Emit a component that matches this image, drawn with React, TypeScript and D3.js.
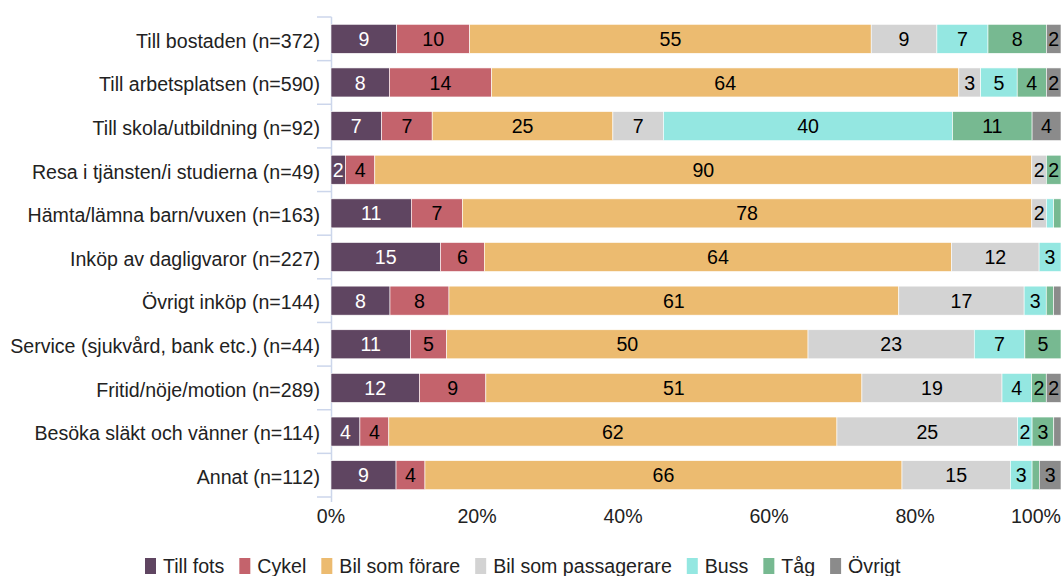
import React from "react";
import * as d3 from "d3";

const categories = [
  "Till bostaden (n=372)",
  "Till arbetsplatsen (n=590)",
  "Till skola/utbildning (n=92)",
  "Resa i tjänsten/i studierna (n=49)",
  "Hämta/lämna barn/vuxen (n=163)",
  "Inköp av dagligvaror (n=227)",
  "Övrigt inköp (n=144)",
  "Service (sjukvård, bank etc.) (n=44)",
  "Fritid/nöje/motion (n=289)",
  "Besöka släkt och vänner (n=114)",
  "Annat (n=112)",
];

const seriesNames = ["Till fots", "Cykel", "Bil som förare", "Bil som passagerare", "Buss", "Tåg", "Övrigt"];
const seriesColors = ["#5f4561", "#c4636c", "#ecbb70", "#d3d3d3", "#94e7e1", "#77b991", "#8b8b8b"];
const labelColors = ["#ffffff", "#000000", "#000000", "#000000", "#000000", "#000000", "#000000"];

const tillFots = [9, 8, 7, 2, 11, 15, 8, 11, 12, 4, 9];
const cykel = [10, 14, 7, 4, 7, 6, 8, 5, 9, 4, 4];
const bilForare = [55, 64, 25, 90, 78, 64, 61, 50, 51, 62, 66];
const bilPassagerare = [9, 3, 7, 2, 2, 12, 17, 23, 19, 25, 15];
const buss = [7, 5, 40, 0, 1, 3, 3, 7, 4, 2, 3];
const tag = [8, 4, 11, 2, 1, 0, 1, 5, 2, 3, 1];
const ovrigt = [2, 2, 4, 0, 0, 0, 1, 0, 2, 1, 3];

const seriesValues = [tillFots, cykel, bilForare, bilPassagerare, buss, tag, ovrigt];
const xTicks = [0, 0.2, 0.4, 0.6, 0.8, 1];

const FONT = "'Liberation Sans', Arial, Helvetica, sans-serif";
const FS = 19.6;

function measure(text: string): number {
  const c = document.createElement("canvas");
  const ctx = c.getContext("2d");
  if (!ctx) return text.length * 9;
  ctx.font = `${FS}px ${FONT}`;
  return ctx.measureText(text).width;
}

export default function App() {
  const width = 1063;
  const height = 576;
  const x0 = 331;
  const x1 = 1061;
  const yTop = 17;
  const yBot = 497;
  const axisColor = "#ccd6eb";

  const rows = categories.map((c, i) => {
    const r: any = { cat: c };
    seriesNames.forEach((s, j) => (r[s] = seriesValues[j][i]));
    return r;
  });

  const stack = d3.stack<any>().keys(seriesNames).offset(d3.stackOffsetExpand)(rows);

  const x = d3.scaleLinear().domain([0, 1]).range([x0, x1]);
  const y = d3.scaleBand<string>().domain(categories).range([yTop, yBot]).paddingInner(0.335).paddingOuter(0.1675);
  const step = y.step();

  // legend layout
  let lx = 145;
  const legendItems = seriesNames.map((s, i) => {
    const w = measure(s);
    const item = { name: s, color: seriesColors[i], x: lx, w };
    lx += 11 + 7 + w + 15;
    return item;
  });

  return (
    <svg width={width} height={height} style={{ position: "absolute", left: 0, top: 0, fontFamily: FONT }}>
      <rect width={width} height={height} fill="#ffffff" />
      {/* axis line */}
      <line x1={x0 + 0.5} x2={x0 + 0.5} y1={yTop} y2={yBot + 5} stroke={axisColor} strokeWidth={1.5} />
      {d3.range(categories.length + 1).map((i) => {
        const yy = yTop + i * step;
        return <line key={i} x1={317} x2={x0 + 0.5} y1={yy} y2={yy} stroke={axisColor} strokeWidth={1.5} />;
      })}
      {/* category labels */}
      {categories.map((c) => (
        <text key={c} x={320} y={(y(c) as number) + y.bandwidth() / 2 + 2} dy="0.35em" textAnchor="end" fontSize={FS} fill="#222">
          {c}
        </text>
      ))}
      {/* bars */}
      {stack.map((layer, j) => (
        <g key={layer.key}>
          {layer.map((d, i) => {
            const v = seriesValues[j][i];
            if (v <= 0) return null;
            const xa = x(d[0]);
            const xb = x(d[1]);
            const yy = y(categories[i]) as number;
            return (
              <g key={i}>
                <rect x={xa} y={yy} width={xb - xa} height={y.bandwidth()} fill={seriesColors[j]} stroke="#ffffff" strokeWidth={0.6} />
                {v >= 2 && (
                  <text x={(xa + xb) / 2} y={yy + y.bandwidth() / 2} dy="0.36em" textAnchor="middle" fontSize={FS} fill={labelColors[j]}>
                    {v}
                  </text>
                )}
              </g>
            );
          })}
        </g>
      ))}
      {/* x tick labels */}
      {xTicks.map((t, i) => (
        <text key={t} x={i === xTicks.length - 1 ? x1 : x(t)} y={523} textAnchor={i === xTicks.length - 1 ? "end" : "middle"} fontSize={FS} fill="#222">
          {`${Math.round(t * 100)}%`}
        </text>
      ))}
      {/* legend */}
      {legendItems.map((it) => (
        <g key={it.name}>
          <rect x={it.x} y={558} width={11} height={16} fill={it.color} />
          <text x={it.x + 18} y={573} fontSize={FS} fill="#222">
            {it.name}
          </text>
        </g>
      ))}
    </svg>
  );
}
